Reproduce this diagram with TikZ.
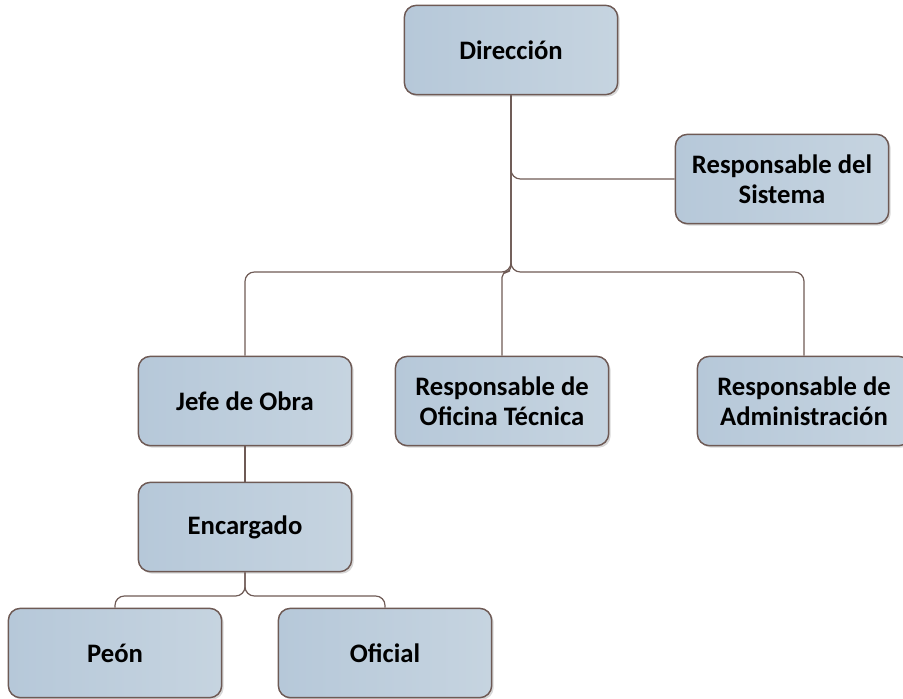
\documentclass[tikz,border=0pt]{standalone}
\usepackage{fontspec}
\setmainfont{Carlito}
\usetikzlibrary{shadows}

\definecolor{boxfill}{HTML}{B6C8D9}
\definecolor{boxlight}{HTML}{C6D4E0}
\definecolor{boxedge}{HTML}{6E5A55}

\begin{document}
\begin{tikzpicture}[x=0.75pt, y=-0.75pt,
  box/.style={draw=boxedge, line width=1.1pt, rounded corners=9pt,
    left color=boxfill, right color=boxlight,
    drop shadow={shadow xshift=1.5pt, shadow yshift=-1.5pt, fill=black!30},
    minimum width=160pt, minimum height=67pt, align=center,
    font=\fontsize{20}{22.5}\selectfont\bfseries},
  link/.style={draw=boxedge, line width=0.9pt, rounded corners=7pt}]
\useasboundingbox (0,0) rectangle (903,699);

\node[box] (dir) at (511,50) {Dirección};
\node[box] (sis) at (782,179) {Responsable del\\Sistema};
\node[box] (jefe) at (245,401) {Jefe de Obra};
\node[box] (ofi) at (502,401) {Responsable de\\Oficina Técnica};
\node[box] (adm) at (804,401) {Responsable de\\Administración};
\node[box] (enc) at (245,527) {Encargado};
\node[box] (peon) at (115,653) {Peón};
\node[box] (ofic) at (385,653) {Oficial};

\coordinate (lvl1) at (0,272);
\coordinate (lvl3) at (0,596);

\draw[link] (dir.south) |- (sis.west);
\draw[link] (dir.south) -- (dir.south |- lvl1) -| (jefe.north);
\draw[link] (dir.south) -- (dir.south |- lvl1) -| (adm.north);
\draw[link, rounded corners=4pt] (dir.south) -- (dir.south |- lvl1) -| (ofi.north);
\draw[link] (jefe) -- (enc);
\draw[link] (enc.south) -- (enc.south |- lvl3) -| (peon.north);
\draw[link] (enc.south) -- (enc.south |- lvl3) -| (ofic.north);
\end{tikzpicture}
\end{document}
